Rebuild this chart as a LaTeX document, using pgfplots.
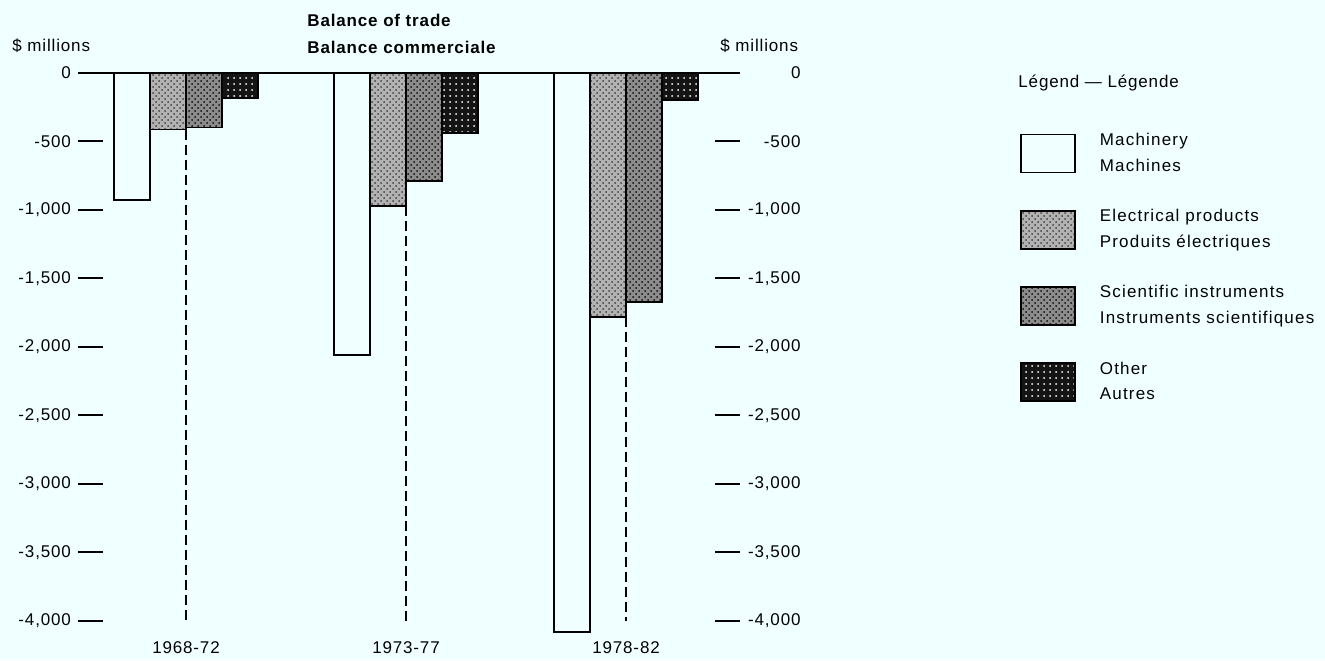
\documentclass[border=0pt]{standalone}
\usepackage{fontspec}
\setmainfont{Liberation Sans}[LetterSpace=5]
\usepackage{pgfplots}
\usepackage{pgfplotstable}
\pgfplotsset{compat=1.18}
\usetikzlibrary{patterns}

\definecolor{paper}{RGB}{240,255,255}
\newcommand\chartfont{\fontsize{8.5pt}{10pt}\selectfont}
\newcommand\twolines[2]{\begin{tabular}{@{}l@{}}#1\\[2.8pt]#2\end{tabular}}

% Balance of trade, $ millions, by five-year period
\pgfplotstableread{
pos machinery electrical scientific other
0   -930      -415       -400       -185
1   -2060     -975       -790       -440
2   -4080     -1780      -1670      -200
}\trade

\begin{document}
\begin{tikzpicture}[font=\chartfont]
\fill[paper] (0,0) rectangle (662.5pt,330pt);

\begin{axis}[
  at={(39pt,12.65pt)}, anchor=south west,
  scale only axis, width=331pt, height=281pt,
  xmin=-0.491, xmax=2.518, ymin=-4100, ymax=0,
  clip=false,
  axis line style={draw=none},
  xtick={0,1,2}, xticklabels={1968-72,1973-77,1978-82},
  major x tick style={draw=none},
  ytick={-4000,-3500,...,0},
  yticklabels={{-4,000},{-3,500},{-3,000},{-2,500},{-2,000},{-1,500},{-1,000},-500,0},
  ytick pos=both, yticklabel pos=left,
  tick align=inside, major tick length=12.5pt,
  major y tick style={line width=1pt, black},
  bar width=18pt,
  legend cell align=left,
  legend style={draw=none, fill=none, inner sep=0pt, outer sep=0pt,
    at={(axis description cs:1.423,0.9025)}, anchor=north west,
    row sep=15.2pt, column sep=10pt,
    font=\chartfont\addfontfeatures{LetterSpace=7}},
  legend image code/.code={\draw[#1] (0pt,-13pt) rectangle (27pt,6pt);},
  every axis plot/.append style={draw=black, line width=0.9pt},
]
\addplot[ybar, bar shift=-27pt, fill=paper] table[x=pos, y=machinery] {\trade};
\addlegendentry{\twolines{Machinery}{Machines}}
\addplot[ybar, bar shift=-9pt, fill=black!30,
  postaction={pattern=crosshatch dots, pattern color=black!75}]
  table[x=pos, y=electrical] {\trade};
\addlegendentry{\twolines{Electrical products}{Produits électriques}}
\addplot[ybar, bar shift=9pt, fill=black!45,
  postaction={pattern=crosshatch dots, pattern color=black!95}]
  table[x=pos, y=scientific] {\trade};
\addlegendentry{\twolines{Scientific instruments}{Instruments scientifiques}}
\addplot[ybar, bar shift=27pt, fill=black!92,
  postaction={pattern=dots, pattern color=white}]
  table[x=pos, y=other] {\trade};
\addlegendentry{\twolines{Other}{Autres}}

% dashed guides from the electrical bars down to the period labels
\addplot[forget plot, dashed, line width=0.7pt, dash pattern=on 5pt off 2.5pt]
  coordinates {(0,-415) (0,-4000)};
\addplot[forget plot, dashed, line width=0.7pt, dash pattern=on 5pt off 2.5pt]
  coordinates {(1,-975) (1,-4000)};
\addplot[forget plot, dashed, line width=0.7pt, dash pattern=on 5pt off 2.5pt]
  coordinates {(2,-1780) (2,-4000)};

% zero line
\draw[line width=1pt] (axis cs:-0.491,0) -- (axis cs:2.518,0);
\end{axis}

% right-hand scale labels
\begin{axis}[
  at={(39pt,12.65pt)}, anchor=south west,
  scale only axis, width=331pt, height=281pt,
  xmin=-0.491, xmax=2.518, ymin=-4100, ymax=0,
  axis line style={draw=none},
  xtick=\empty,
  ytick={-4000,-3500,...,0},
  yticklabels={{-4,000},{-3,500},{-3,000},{-2,500},{-2,000},{-1,500},{-1,000},-500,0},
  yticklabel pos=right,
  major y tick style={draw=none},
  yticklabel style={anchor=east, xshift=33.8pt},
]
\end{axis}

\node[anchor=base west, inner sep=0pt, font=\chartfont\bfseries] at (153.5pt,316.5pt) {Balance of trade};
\node[anchor=base west, inner sep=0pt, font=\chartfont\bfseries] at (153.5pt,303pt) {Balance commerciale};
\node[anchor=base west, inner sep=0pt] at (6pt,304pt) {\$ millions};
\node[anchor=base west, inner sep=0pt] at (360pt,304pt) {\$ millions};
\node[anchor=base west, inner sep=0pt] at (509pt,286pt) {Légend — Légende};

\pgfresetboundingbox
\useasboundingbox (0,0) rectangle (662.5pt,330pt);
\end{tikzpicture}
\end{document}
